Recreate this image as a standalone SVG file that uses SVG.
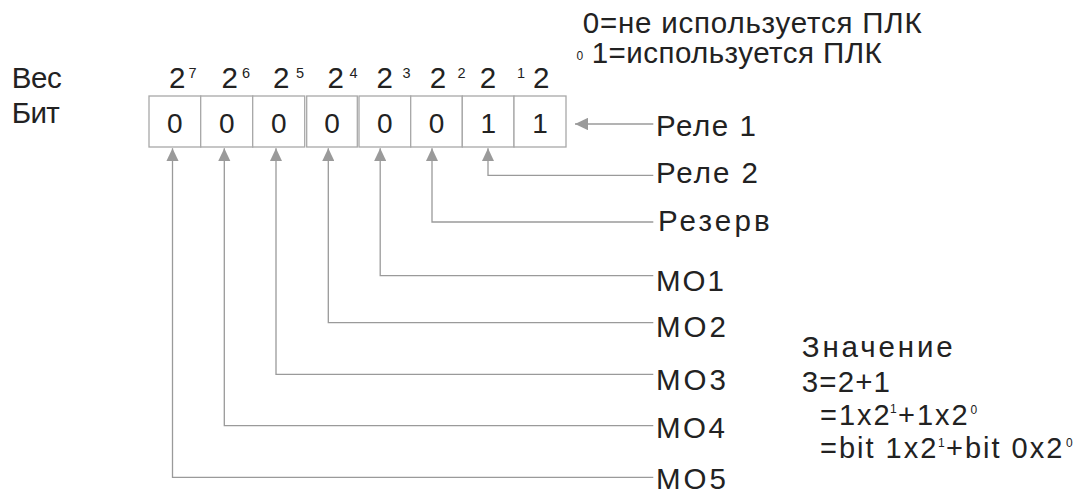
<svg xmlns="http://www.w3.org/2000/svg" width="1087" height="494" viewBox="0 0 1087 494">
<style>
.t{font-family:"Liberation Sans",Arial,sans-serif;fill:#222;font-size:29.5px}
.d{font-family:"Liberation Sans",Arial,sans-serif;fill:#222;font-size:28px;text-anchor:middle}
.f{font-family:"Liberation Sans",Arial,sans-serif;fill:#222;font-size:29px}
.f1{letter-spacing:2px}
.f2{letter-spacing:2px}
.s{font-family:"Liberation Sans",Arial,sans-serif;fill:#222;font-size:14.5px}
.x{font-family:"Liberation Sans",Arial,sans-serif;fill:#222;font-size:12px}
.cell{fill:#fff;stroke:#a8a8a8;stroke-width:1.3}
.con{fill:none;stroke:#9a9a9a;stroke-width:1.3}
</style>
<defs>
<marker id="ah" markerUnits="userSpaceOnUse" viewBox="0 0 13 12.4" markerWidth="13" markerHeight="12.4" refX="13" refY="6.2" orient="auto-start-reverse">
<path d="M0,0 L13,6.2 L0,12.4 Z" fill="#9a9a9a"/>
</marker>
</defs>
<rect width="1087" height="494" fill="#fff"/>
<g id="legend">
<text class="t" x="582.7" y="33.3" textLength="339" lengthAdjust="spacing">0=не используется ПЛК</text>
<text class="x" x="576.5" y="60">0</text>
<text class="t" x="591.7" y="63.3" textLength="290" lengthAdjust="spacing">1=используется ПЛК</text>
</g>
<g id="row-labels">
<text class="t" x="11.7" y="88.3" textLength="50" lengthAdjust="spacing">Вес</text>
<text class="t" x="11.7" y="123.3" textLength="48" lengthAdjust="spacing">Бит</text>
</g>
<g id="weights">
<text class="t" x="169" y="88.3">2</text><text class="s" x="188.5" y="77.5">7</text>
<text class="t" x="221.4" y="88.3">2</text><text class="s" x="242" y="77.5">6</text>
<text class="t" x="273" y="88.3">2</text><text class="s" x="296" y="77.5">5</text>
<text class="t" x="327.4" y="88.3">2</text><text class="s" x="349.5" y="77.5">4</text>
<text class="t" x="376.4" y="88.3">2</text><text class="s" x="402.5" y="77.5">3</text>
<text class="t" x="429.7" y="88.3">2</text><text class="s" x="457.5" y="77.5">2</text>
<text class="t" x="479.7" y="88.3">2</text><text class="s" x="517" y="77.5">1</text>
<text class="t" x="533" y="88.3">2</text>
</g>
<g id="bits">
<rect class="cell" x="149" y="96" width="51.7" height="51"/>
<rect class="cell" x="200.7" y="96" width="52" height="51"/>
<rect class="cell" x="252.7" y="96" width="52" height="51"/>
<rect class="cell" x="306.7" y="96" width="50.6" height="51"/>
<rect class="cell" x="359" y="96" width="51.7" height="51"/>
<rect class="cell" x="410.7" y="96" width="51.6" height="51"/>
<rect class="cell" x="462.3" y="96" width="51.7" height="51"/>
<rect class="cell" x="514" y="96" width="52" height="51"/>
<text class="d" x="174.8" y="133.3">0</text>
<text class="d" x="226.7" y="133.3">0</text>
<text class="d" x="278.7" y="133.3">0</text>
<text class="d" x="332" y="133.3">0</text>
<text class="d" x="384.8" y="133.3">0</text>
<text class="d" x="436.5" y="133.3">0</text>
<text class="d" x="488.2" y="133.3">1</text>
<text class="d" x="540" y="133.3">1</text>
</g>
<g id="connectors">
<path class="con" d="M653.3,124 H575" marker-end="url(#ah)"/>
<path class="con" d="M488,148.3 V175.3 H653.3" marker-start="url(#ah)"/>
<path class="con" d="M432,148.3 V222 H653.3" marker-start="url(#ah)"/>
<path class="con" d="M380.2,148.3 V275.7 H653.3" marker-start="url(#ah)"/>
<path class="con" d="M328.3,148.3 V322.7 H653.3" marker-start="url(#ah)"/>
<path class="con" d="M276,148.3 V374.3 H653.3" marker-start="url(#ah)"/>
<path class="con" d="M224.3,148.3 V425.7 H653.3" marker-start="url(#ah)"/>
<path class="con" d="M172.5,148.3 V477.3 H653.3" marker-start="url(#ah)"/>
</g>
<g id="relay1"><text class="t" x="656" y="136" textLength="100" lengthAdjust="spacing">Реле 1</text></g>
<g id="relay2"><text class="t" x="656" y="182.7" textLength="102" lengthAdjust="spacing">Реле 2</text></g>
<g id="reserve"><text class="t" x="658" y="230.7" textLength="111.7" lengthAdjust="spacing">Резерв</text></g>
<g id="mo1"><text class="t" x="656" y="290.7" textLength="68" lengthAdjust="spacing">MO1</text></g>
<g id="mo2"><text class="t" x="656" y="337.3" textLength="70" lengthAdjust="spacing">MO2</text></g>
<g id="mo3"><text class="t" x="656" y="390" textLength="70" lengthAdjust="spacing">MO3</text></g>
<g id="mo4"><text class="t" x="656" y="438.3" textLength="69" lengthAdjust="spacing">MO4</text></g>
<g id="mo5"><text class="t" x="656" y="489.3" textLength="70" lengthAdjust="spacing">MO5</text></g>
<g id="value">
<text class="t" x="801.7" y="357.3" textLength="151" lengthAdjust="spacing">Значение</text>
<text class="t" x="801.7" y="391.7" textLength="88.3" lengthAdjust="spacing">3=2+1</text>
<text class="f f1" x="820" y="425">=1x2</text>
<text class="x" x="890" y="413">1</text>
<text class="f f1" x="898" y="425">+1x2</text>
<text class="x" x="970.5" y="414">0</text>
<text class="f f2" x="820" y="458.3">=bit 1x2</text>
<text class="x" x="938" y="447">1</text>
<text class="f f2" x="946" y="458.3">+bit 0x2</text>
<text class="x" x="1066" y="447">0</text>
</g>
</svg>
